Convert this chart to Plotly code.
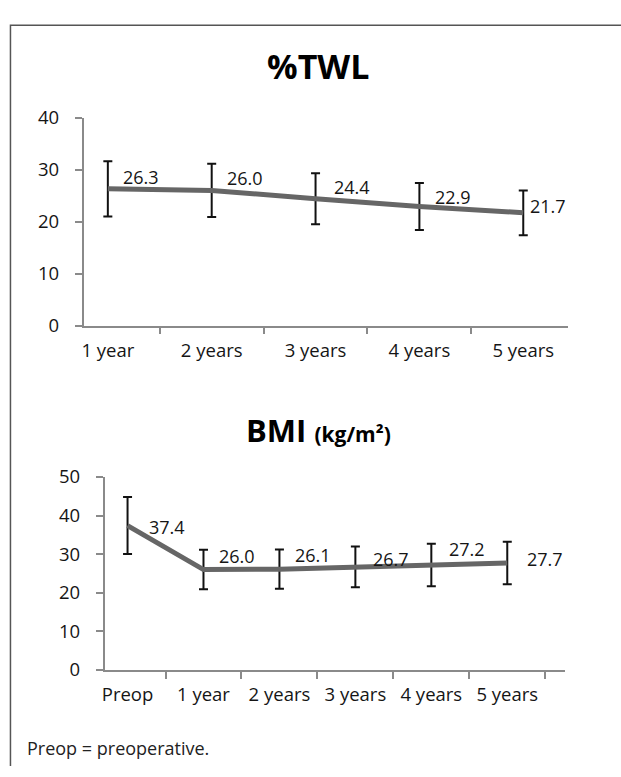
import plotly.graph_objects as go

W, H = 621, 777

# ---- data ----
twl_categories = ["1 year", "2 years", "3 years", "4 years", "5 years"]
twl_values = [26.3, 26.0, 24.4, 22.9, 21.7]
twl_errors = [5.3, 5.1, 4.9, 4.5, 4.3]

bmi_categories = ["Preop", "1 year", "2 years", "3 years", "4 years", "5 years"]
bmi_values = [37.4, 26.0, 26.1, 26.7, 27.2, 27.7]
bmi_errors = [7.4, 5.1, 5.1, 5.3, 5.5, 5.5]

twl_ticks = [0, 10, 20, 30, 40]
bmi_ticks = [0, 10, 20, 30, 40, 50]

# label offsets (pixels) — style only
twl_label_shift = [(13, 12), (13, 12), (16, 12), (14, 10), (5, 7)]
bmi_label_shift = [(19, -1), (14, 14), (14, 14), (16, 8), (16, 16), (18, 4)]

FONT = "Open Sans"
LINE_COL = "#666666"
AXIS_COL = "#8a8a8a"
TXT = "#151515"


def px_x(p):
    return p / W


def px_y(p):
    return 1 - p / H


fig = go.Figure()

fig.add_trace(go.Scatter(
    x=twl_categories, y=twl_values, mode="lines", xaxis="x", yaxis="y",
    line=dict(color=LINE_COL, width=5),
    error_y=dict(type="data", array=twl_errors, color="#111111", thickness=2, width=4.5),
    showlegend=False, hoverinfo="skip"))

fig.add_trace(go.Scatter(
    x=bmi_categories, y=bmi_values, mode="lines", xaxis="x2", yaxis="y2",
    line=dict(color=LINE_COL, width=5),
    error_y=dict(type="data", array=bmi_errors, color="#111111", thickness=2, width=4.5),
    showlegend=False, hoverinfo="skip"))

annotations = []
for c, v, (dx, dy) in zip(twl_categories, twl_values, twl_label_shift):
    annotations.append(dict(x=c, y=v, xref="x", yref="y", text=f"{v:.1f}",
                            showarrow=False, xanchor="left", yanchor="middle",
                            xshift=dx, yshift=dy,
                            font=dict(family=FONT, size=18, color=TXT)))
for c, v, (dx, dy) in zip(bmi_categories, bmi_values, bmi_label_shift):
    annotations.append(dict(x=c, y=v, xref="x2", yref="y2", text=f"{v:.1f}",
                            showarrow=False, xanchor="left", yanchor="middle",
                            xshift=dx, yshift=dy,
                            font=dict(family=FONT, size=18, color=TXT)))

annotations.append(dict(x=px_x(317), y=px_y(53.5), xref="paper", yref="paper",
                        text="<b>%TWL</b>", showarrow=False,
                        xanchor="center", yanchor="middle",
                        font=dict(family=FONT, size=34, color="#000000")))
annotations.append(dict(x=px_x(317), y=px_y(429.5), xref="paper", yref="paper",
                        text="<b>BMI</b> <b><span style='font-size:21px'>(kg/m²)</span></b>",
                        showarrow=False, xanchor="center", yanchor="middle",
                        font=dict(family=FONT, size=31, color="#000000")))
annotations.append(dict(x=px_x(22), y=px_y(758), xref="paper", yref="paper",
                        text="Preop = preoperative.", showarrow=False,
                        xanchor="left", yanchor="middle",
                        font=dict(family=FONT, size=18, color="#222222")))

axis_common = dict(showgrid=False, zeroline=False, showline=True, linecolor=AXIS_COL,
                   linewidth=1.5, ticks="outside", ticklen=7, tickcolor=AXIS_COL,
                   tickwidth=1.5, tickfont=dict(family=FONT, size=18.5, color=TXT),
                   fixedrange=True)

fig.update_layout(
    width=W, height=H, margin=dict(l=0, r=0, t=0, b=0),
    paper_bgcolor="white", plot_bgcolor="white",
    xaxis=dict(domain=[px_x(81), px_x(568)], anchor="y", tickson="boundaries",
               type="category", ticklabelstandoff=7, **axis_common),
    yaxis=dict(domain=[px_y(322), px_y(107)], anchor="x", range=[0, 40],
               tickvals=twl_ticks, ticklabelstandoff=12, **axis_common),
    xaxis2=dict(domain=[px_x(102), px_x(565)], anchor="y2", tickson="boundaries",
                type="category", ticklabelstandoff=7, **axis_common),
    yaxis2=dict(domain=[px_y(677.7), px_y(478.3)], anchor="x2", range=[0, 50],
                tickvals=bmi_ticks, ticklabelstandoff=12, **axis_common),
    annotations=annotations,
    shapes=[dict(type="path", xref="paper", yref="paper",
                 path=f"M {px_x(7.5)} 0 L {px_x(7.5)} {px_y(11.5)} L 1 {px_y(11.5)}",
                 line=dict(color="#555555", width=1.5))],
)

fig.write_html(
    "out.html",
    config={"displayModeBar": False, "responsive": False},
    post_script="document.documentElement.style.margin='0';"
                "document.body.style.margin='0';document.body.style.padding='0';"
                "document.documentElement.style.overflow='hidden';"
                "document.body.style.overflow='hidden';"
                "var gd=document.getElementById('{plot_id}');"
                "gd.style.position='fixed';gd.style.top='0';gd.style.left='0';",
)
